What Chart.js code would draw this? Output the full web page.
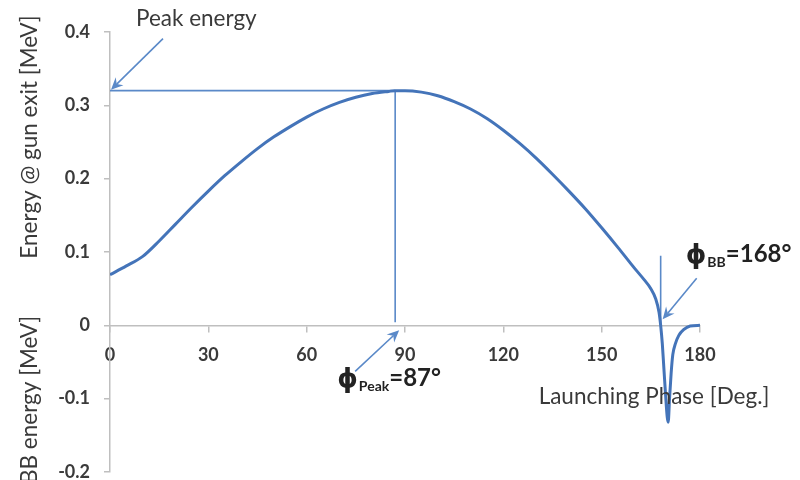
<!DOCTYPE html>
<html>
<head>
<meta charset="utf-8">
<script src="https://cdn.jsdelivr.net/npm/chart.js@4/dist/chart.umd.min.js"></script>
<style>
  html, body { margin: 0; padding: 0; background: #ffffff; }
  #wrap { width: 800px; height: 480px; }
</style>
</head>
<body>
<div id="wrap"><canvas id="c" width="800" height="480"></canvas></div>
<script>
// Launching phase (deg) and electron energy at the gun exit (MeV)
const phaseDeg = [
  0, 5, 10, 15, 20, 25, 30, 35, 40, 45, 50, 55, 60, 65, 70, 75, 80, 85, 87,
  90, 95, 100, 105, 110, 115, 120, 125, 130, 135, 140, 145, 150, 155, 160,
  163, 165, 166.5, 167.5, 168, 168.5, 169, 169.5, 170, 170.3, 170.7, 171.2,
  171.7, 172.5, 173.5, 175, 177, 180
];
const energyMeV = [
  0.069, 0.081, 0.094, 0.115, 0.138, 0.161, 0.183, 0.204, 0.223, 0.241, 0.257,
  0.271, 0.284, 0.295, 0.304, 0.311, 0.316, 0.319, 0.320,
  0.320, 0.318, 0.313, 0.305, 0.295, 0.282, 0.266, 0.248, 0.228, 0.206, 0.183,
  0.159, 0.133, 0.106, 0.078,
  0.062, 0.050, 0.036, 0.018, 0.0, -0.025, -0.060, -0.095, -0.125, -0.132,
  -0.100, -0.065, -0.040, -0.025, -0.014, -0.006, -0.001, 0.0
];

const xTicks = [0, 30, 60, 90, 120, 150, 180];
const yTicks = [-0.2, -0.1, 0, 0.1, 0.2, 0.3, 0.4];

// Marked operating points
const peakPhase = 87;
const peakEnergy = 0.32;
const bbPhase = 168;
const bbMarkerTop = 0.095;

const curveBlue = '#4474b9';
const markBlue = '#5a89c8';
const axisGrey = '#bfbfbf';
const textDark = '#3a3a3a';
const titleFont = '22.5px Lato, "Noto Sans", sans-serif';

function arrow(ctx, x1, y1, x2, y2, color) {
  // shaft from (x1,y1) to tip (x2,y2) with a stealth-style head
  const ang = Math.atan2(y2 - y1, x2 - x1);
  const len = 12, half = 5.5, notch = 8;
  ctx.save();
  ctx.strokeStyle = color;
  ctx.fillStyle = color;
  ctx.lineWidth = 1.6;
  ctx.beginPath();
  ctx.moveTo(x1, y1);
  ctx.lineTo(x2 - Math.cos(ang) * notch, y2 - Math.sin(ang) * notch);
  ctx.stroke();
  ctx.translate(x2, y2);
  ctx.rotate(ang);
  ctx.beginPath();
  ctx.moveTo(0, 0);
  ctx.lineTo(-len, -half);
  ctx.lineTo(-notch, 0);
  ctx.lineTo(-len, half);
  ctx.closePath();
  ctx.fill();
  ctx.restore();
}

function phiLabel(ctx, x, baseline, sub, rest) {
  ctx.save();
  ctx.fillStyle = '#222222';
  ctx.textAlign = 'left';
  ctx.textBaseline = 'alphabetic';
  ctx.font = 'bold 26px "DejaVu Sans", Lato, sans-serif';
  ctx.fillText('\u03D5', x, baseline + 1);
  let cx = x + ctx.measureText('\u03D5').width + 1;
  ctx.font = 'bold 14px Lato, "Noto Sans", sans-serif';
  ctx.fillText(sub, cx, baseline + 5);
  cx += ctx.measureText(sub).width;
  ctx.font = 'bold 24px Lato, "Noto Sans", sans-serif';
  ctx.fillText(rest, cx, baseline);
  ctx.restore();
}

const markerLines = {
  id: 'markerLines',
  beforeDatasetsDraw(chart) {
    const { ctx } = chart;
    const xs = chart.scales.x, ys = chart.scales.y;
    ctx.save();
    ctx.strokeStyle = markBlue;
    ctx.lineWidth = 1.6;
    ctx.beginPath();
    ctx.moveTo(xs.getPixelForValue(0), ys.getPixelForValue(peakEnergy));
    ctx.lineTo(xs.getPixelForValue(peakPhase), ys.getPixelForValue(peakEnergy));
    ctx.moveTo(xs.getPixelForValue(peakPhase), ys.getPixelForValue(peakEnergy));
    ctx.lineTo(xs.getPixelForValue(peakPhase), ys.getPixelForValue(0) - 3);
    ctx.moveTo(xs.getPixelForValue(bbPhase), ys.getPixelForValue(bbMarkerTop));
    ctx.lineTo(xs.getPixelForValue(bbPhase), ys.getPixelForValue(0));
    ctx.stroke();
    ctx.restore();
  },
  afterDraw(chart) {
    const { ctx } = chart;
    const xs = chart.scales.x, ys = chart.scales.y;
    const x0 = xs.getPixelForValue(0);
    const yPeak = ys.getPixelForValue(peakEnergy);
    const yZero = ys.getPixelForValue(0);
    const xPeak = xs.getPixelForValue(peakPhase);
    const xBB = xs.getPixelForValue(bbPhase);

    arrow(ctx, x0 + 53, yPeak - 52, x0 + 1, yPeak - 1, markBlue);
    arrow(ctx, xPeak - 40, yZero + 46, xPeak + 4, yZero + 5, markBlue);
    arrow(ctx, xBB + 36, yZero - 47, xBB + 2, yZero - 6, markBlue);

    ctx.save();
    ctx.fillStyle = textDark;
    ctx.font = titleFont;
    ctx.textAlign = 'left';
    ctx.textBaseline = 'alphabetic';
    ctx.fillText('Peak energy', 136, 26);

    ctx.textAlign = 'center';
    ctx.fillText('Launching Phase [Deg.]', 654, 404);

    ctx.translate(30, 0);
    ctx.rotate(-Math.PI / 2);
    ctx.textBaseline = 'middle';
    ctx.textAlign = 'center';
    ctx.fillText('Energy @ gun exit [MeV]', -137, 0);
    ctx.textAlign = 'left';
    ctx.fillText('BB energy [MeV]', -484, 0);
    ctx.restore();

    phiLabel(ctx, xPeak - 58, yZero + 61, 'Peak', '=87\u00B0');
    phiLabel(ctx, xBB + 25, yZero - 63, 'BB', '=168\u00B0');
  }
};

const points = phaseDeg.map((p, i) => ({ x: p, y: energyMeV[i] }));

new Chart(document.getElementById('c'), {
  type: 'line',
  data: {
    datasets: [{
      data: points,
      borderColor: curveBlue,
      borderWidth: 3,
      pointRadius: 0,
      fill: false,
      cubicInterpolationMode: 'monotone'
    }]
  },
  options: {
    responsive: false,
    devicePixelRatio: 1,
    animation: false,
    layout: { padding: { left: 0, top: 32, right: 100, bottom: 8 } },
    plugins: { legend: { display: false }, tooltip: { enabled: false } },
    scales: {
      x: {
        type: 'linear',
        min: 0,
        max: 180,
        position: { y: 0 },
        afterBuildTicks: s => { s.ticks = xTicks.map(v => ({ value: v })); },
        afterFit: s => { s.height = 0; s.paddingLeft = 0; s.paddingRight = 0; },
        grid: { drawOnChartArea: false, drawTicks: true, tickLength: 6, color: axisGrey, lineWidth: 1.5 },
        border: { color: axisGrey, width: 1.5 },
        ticks: {
          color: textDark,
          font: { family: 'Lato, "Noto Sans", sans-serif', size: 18, weight: 'bold' },
          padding: 13,
          maxRotation: 0,
          autoSkip: false
        }
      },
      y: {
        type: 'linear',
        min: -0.2,
        max: 0.4,
        position: 'left',
        afterBuildTicks: s => { s.ticks = yTicks.map(v => ({ value: v })); },
        afterFit: s => { s.width = 110; s.paddingTop = 0; s.paddingBottom = 0; },
        grid: { drawOnChartArea: false, drawTicks: true, tickLength: 6, color: axisGrey, lineWidth: 1.5 },
        border: { color: axisGrey, width: 1.5 },
        ticks: {
          color: textDark,
          font: { family: 'Lato, "Noto Sans", sans-serif', size: 18, weight: 'bold' },
          padding: 14,
          callback: v => (v === 0 ? '0' : v.toFixed(1))
        }
      }
    }
  },
  plugins: [markerLines]
});
</script>
</body>
</html>
